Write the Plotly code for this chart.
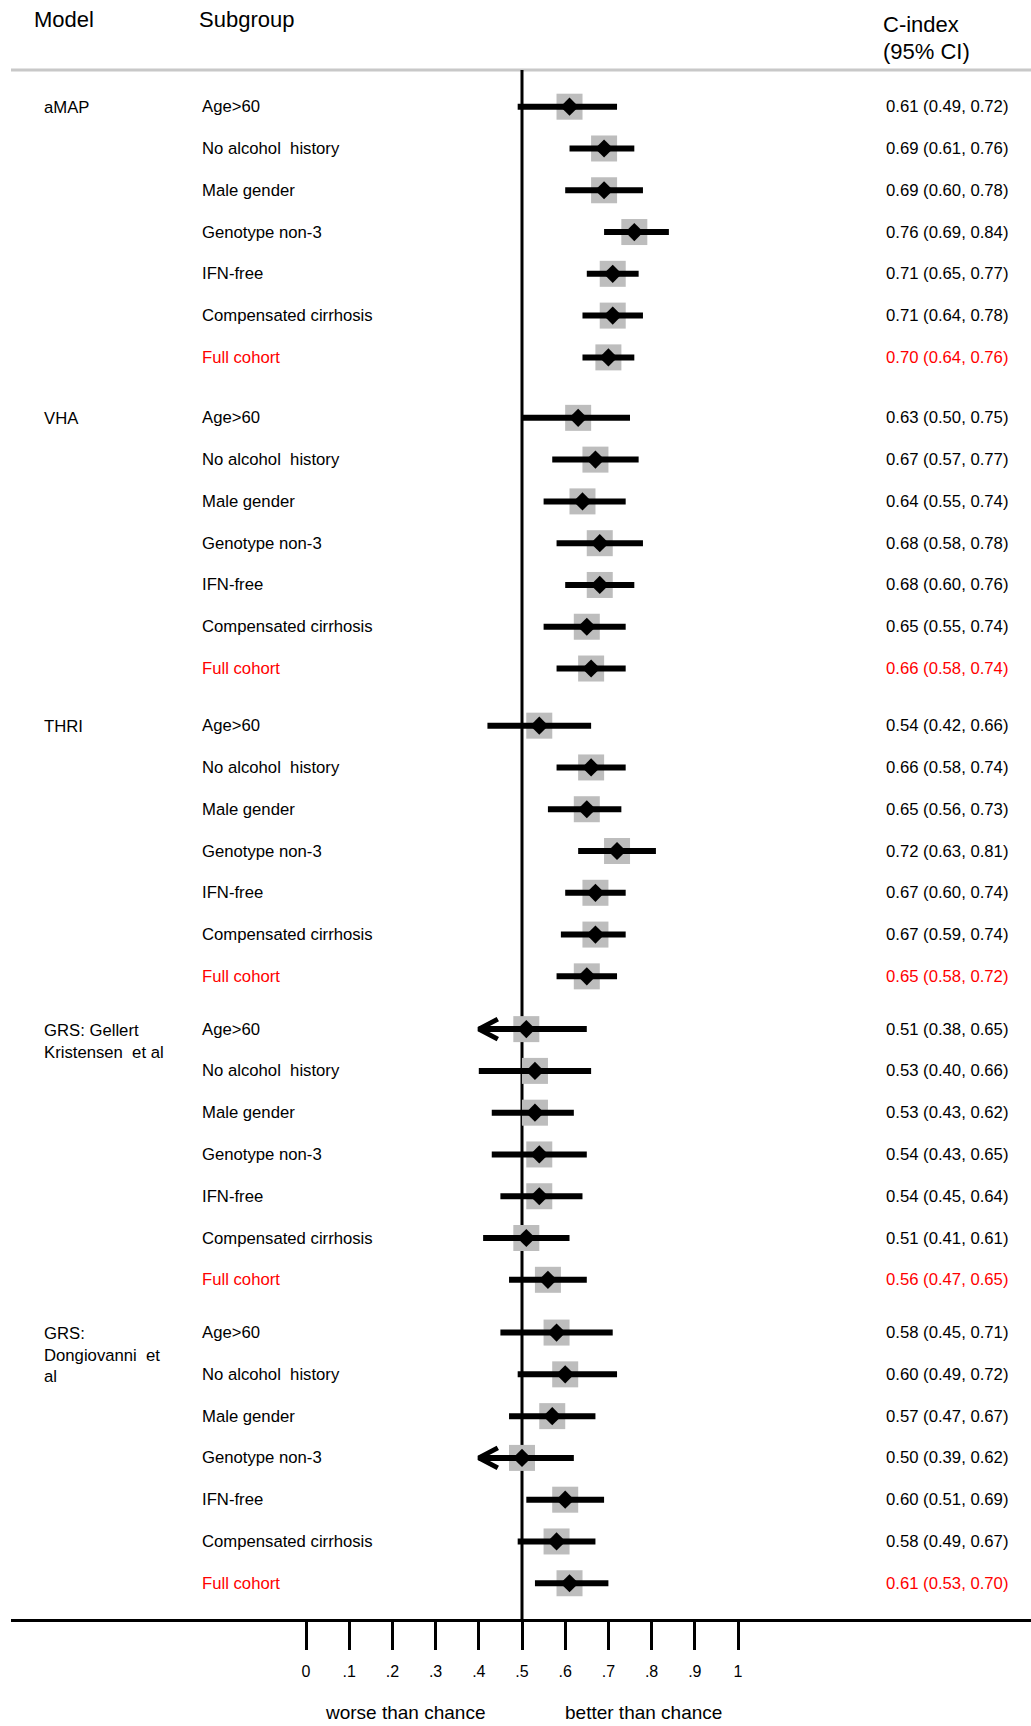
import plotly.graph_objects as go

# ---- data -----------------------------------------------------------------
MODELS = [
    "aMAP",
    "VHA",
    "THRI",
    "GRS: Gellert<br>Kristensen  et al",
    "GRS:<br>Dongiovanni  et<br>al",
]
SUBGROUPS = [
    "Age>60",
    "No alcohol  history",
    "Male gender",
    "Genotype non-3",
    "IFN-free",
    "Compensated cirrhosis",
    "Full cohort",
]

EST_AMAP = [0.61, 0.69, 0.69, 0.76, 0.71, 0.71, 0.70]
LO_AMAP = [0.49, 0.61, 0.60, 0.69, 0.65, 0.64, 0.64]
HI_AMAP = [0.72, 0.76, 0.78, 0.84, 0.77, 0.78, 0.76]

EST_VHA = [0.63, 0.67, 0.64, 0.68, 0.68, 0.65, 0.66]
LO_VHA = [0.50, 0.57, 0.55, 0.58, 0.60, 0.55, 0.58]
HI_VHA = [0.75, 0.77, 0.74, 0.78, 0.76, 0.74, 0.74]

EST_THRI = [0.54, 0.66, 0.65, 0.72, 0.67, 0.67, 0.65]
LO_THRI = [0.42, 0.58, 0.56, 0.63, 0.60, 0.59, 0.58]
HI_THRI = [0.66, 0.74, 0.73, 0.81, 0.74, 0.74, 0.72]

EST_GELLERT = [0.51, 0.53, 0.53, 0.54, 0.54, 0.51, 0.56]
LO_GELLERT = [0.38, 0.40, 0.43, 0.43, 0.45, 0.41, 0.47]
HI_GELLERT = [0.65, 0.66, 0.62, 0.65, 0.64, 0.61, 0.65]

EST_DONGIOVANNI = [0.58, 0.60, 0.57, 0.50, 0.60, 0.58, 0.61]
LO_DONGIOVANNI = [0.45, 0.49, 0.47, 0.39, 0.51, 0.49, 0.53]
HI_DONGIOVANNI = [0.71, 0.72, 0.67, 0.62, 0.69, 0.67, 0.70]

TICK_VALUES = [0, 0.1, 0.2, 0.3, 0.4, 0.5, 0.6, 0.7, 0.8, 0.9, 1.0]
TICK_LABELS = ["0", ".1", ".2", ".3", ".4", ".5", ".6", ".7", ".8", ".9", "1"]

CHANCE = 0.5      # reference line
CI_FLOOR = 0.4    # intervals below this are cut and drawn with an arrow

EST = [EST_AMAP, EST_VHA, EST_THRI, EST_GELLERT, EST_DONGIOVANNI]
LO = [LO_AMAP, LO_VHA, LO_THRI, LO_GELLERT, LO_DONGIOVANNI]
HI = [HI_AMAP, HI_VHA, HI_THRI, HI_GELLERT, HI_DONGIOVANNI]

# ---- layout geometry ------------------------------------------------------
W, H = 1031, 1726
L_M, B_M = 11, 107
PLOT_H = H - B_M
X0_PX, X_SCALE = 306, 432        # pixel of C-index 0, pixels per unit
Y0_PX, ROW_PX = 106.7, 41.78     # pixel of first row, pixels per row
GROUP_GAPS = [1.447, 1.368, 1.263, 1.263]

FONT = "Liberation Sans, Arial, Helvetica, sans-serif"
RED = "#FF0000"
BODY = 16.7


def px_to_x(p):
    return (p - X0_PX) / X_SCALE


def px_to_row(p):
    return (p - Y0_PX) / ROW_PX


def xp(p):
    return (p - L_M) / (W - L_M)


def yp(p):
    return 1 - p / PLOT_H


rows = []
start = 0.0
for g in range(len(MODELS)):
    rows.append([start + i for i in range(len(SUBGROUPS))])
    if g < len(GROUP_GAPS):
        start += len(SUBGROUPS) - 1 + GROUP_GAPS[g]

all_est, all_rows = [], []
ci_x, ci_y = [], []
arr_x, arr_y = [], []
arrow_dx = 19 / X_SCALE
arrow_dy = 10 / ROW_PX
for g in range(len(MODELS)):
    for i in range(len(SUBGROUPS)):
        r = rows[g][i]
        e, lo, hi = EST[g][i], LO[g][i], HI[g][i]
        all_est.append(e)
        all_rows.append(r)
        left = max(lo, CI_FLOOR)
        ci_x += [left, hi, None]
        ci_y += [r, r, None]
        if lo < CI_FLOOR:
            arr_x += [CI_FLOOR + arrow_dx, CI_FLOOR, CI_FLOOR + arrow_dx, None]
            arr_y += [r - arrow_dy, r, r + arrow_dy, None]

fig = go.Figure()

# grey boxes behind each estimate
fig.add_trace(go.Scatter(
    x=all_est, y=all_rows, mode="markers",
    marker=dict(symbol="square", size=26, color="#BDBDBD", line=dict(width=0)),
    hoverinfo="skip",
))
# confidence intervals
fig.add_trace(go.Scatter(
    x=ci_x, y=ci_y, mode="lines",
    line=dict(color="black", width=6), hoverinfo="skip",
))
# arrows for truncated intervals
fig.add_trace(go.Scatter(
    x=arr_x, y=arr_y, mode="lines",
    line=dict(color="black", width=5), hoverinfo="skip",
))
# point estimates
fig.add_trace(go.Scatter(
    x=all_est, y=all_rows, mode="markers",
    marker=dict(symbol="diamond", size=14, color="black", line=dict(width=0)),
    hoverinfo="skip",
))

annotations = []


def add_text(text, x_px, y_val, size=BODY, color="black", yref="y",
             xanchor="left", yanchor="middle", pad=1):
    annotations.append(dict(
        text=text, x=xp(x_px), xref="paper", y=y_val, yref=yref,
        xanchor=xanchor, yanchor=yanchor, align="left", showarrow=False,
        borderpad=pad,
        font=dict(family=FONT, size=size, color=color),
    ))


# header
add_text("Model", 32, yp(20), size=22, yref="paper")
add_text("Subgroup", 197, yp(20), size=22, yref="paper")
add_text("C-index", 881, yp(24), size=22, yref="paper")
add_text("(95% CI)", 881, yp(51), size=22, yref="paper")

for g, model in enumerate(MODELS):
    add_text(model, 42, rows[g][0] - 10.5 / ROW_PX, yanchor="top")
    for i, sub in enumerate(SUBGROUPS):
        color = RED if sub == "Full cohort" else "black"
        r = rows[g][i]
        add_text(sub, 200, r, color=color)
        label = f"{EST[g][i]:.2f} ({LO[g][i]:.2f}, {HI[g][i]:.2f})"
        add_text(label, 884, r, color=color)

# footer
add_text("worse than chance", 405, yp(1712), size=19, yref="paper",
         xanchor="center", pad=0)
add_text("better than chance", 643, yp(1712), size=19, yref="paper",
         xanchor="center", pad=0)

shapes = [
    # header rule
    dict(type="line", xref="paper", yref="paper", x0=0, x1=1, y0=yp(70), y1=yp(70),
         line=dict(color="#C8C8C8", width=3), layer="below"),
    # line of no discrimination
    dict(type="line", xref="x", yref="paper", x0=CHANCE, x1=CHANCE, y0=yp(70), y1=0,
         line=dict(color="black", width=3), layer="below"),
]

fig.update_layout(
    width=W, height=H,
    margin=dict(l=L_M, r=0, t=0, b=B_M),
    paper_bgcolor="white", plot_bgcolor="white",
    showlegend=False,
    annotations=annotations,
    shapes=shapes,
    font=dict(family=FONT, color="black"),
    xaxis=dict(
        range=[px_to_x(L_M), px_to_x(W)],
        showgrid=False, zeroline=False,
        showline=True, linecolor="black", linewidth=3,
        ticks="outside", ticklen=28, tickwidth=3, tickcolor="black",
        tickvals=TICK_VALUES, ticktext=TICK_LABELS,
        tickfont=dict(family=FONT, size=16, color="black"),
        ticklabelstandoff=8,
        fixedrange=True,
    ),
    yaxis=dict(
        range=[px_to_row(PLOT_H), px_to_row(0)],
        visible=False, fixedrange=True,
    ),
)

fig.write_html("out.html", config={"displayModeBar": False})
